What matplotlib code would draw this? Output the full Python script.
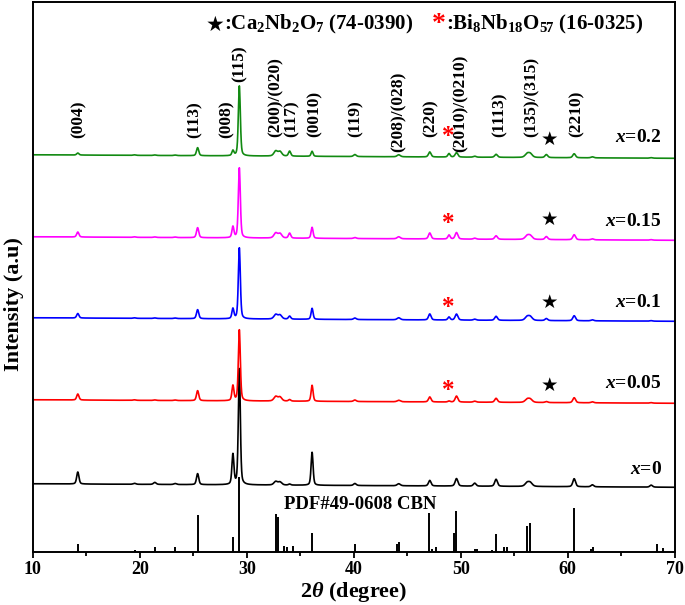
"""XRD patterns of CBN samples with the PDF#49-0608 reference bars."""
import matplotlib.pyplot as plt
import numpy as np
from matplotlib.ticker import MultipleLocator

plt.rcParams["font.family"] = ["Liberation Serif", "DejaVu Sans"]
plt.rcParams["font.weight"] = "bold"
plt.rcParams["axes.labelweight"] = "bold"
plt.rcParams["mathtext.fontset"] = "custom"
plt.rcParams["mathtext.rm"] = "Liberation Serif:bold"
plt.rcParams["mathtext.it"] = "Liberation Serif:italic:bold"
plt.rcParams["mathtext.bf"] = "Liberation Serif:bold"

# peak positions (2theta) and widths shared by all samples
peak_pos = [14.2, 19.5, 21.4, 23.3, 25.4, 28.7, 29.3, 32.7, 33.1, 34.0, 36.1,
            40.1, 44.2, 47.1, 48.9, 49.6, 51.3, 53.3, 56.2, 56.5, 58.0, 60.6,
            62.3, 67.8]
peak_fwhm = [0.25, 0.3, 0.3, 0.3, 0.25, 0.22, 0.22, 0.4, 0.4, 0.25, 0.22,
             0.3, 0.35, 0.28, 0.25, 0.3, 0.3, 0.3, 0.45, 0.45, 0.3, 0.3,
             0.3, 0.3]

# peak heights, one list per sample
h_x0 = [12, 1, 2, 1, 11, 30, 116, 3.5, 3, 1, 33, 2, 2, 5.5, 0, 7.5, 3, 7,
        3.5, 3.5, 0, 8, 2, 2]
h_x005 = [6, 0.5, 0.5, 0.5, 10, 15, 71, 4.5, 4, 1.5, 16, 1.5, 1.5, 5, 1, 6,
          1, 4, 3, 3, 1, 5, 1, 0.5]
h_x01 = [4.5, 0.5, 0.5, 0.5, 9, 10, 71, 4.5, 4, 3, 11, 1.5, 2, 6, 3, 6, 1,
         4, 3.5, 3.5, 2, 5, 1, 0.5]
h_x015 = [5, 0.5, 0.5, 0.5, 10, 11, 70, 5, 4.5, 5, 11, 1, 2, 6, 4, 6.5, 1,
          3.5, 3.5, 3.5, 3, 5, 1, 0.5]
h_x02 = [2, 0.5, 0.5, 0.5, 8, 5, 70, 5, 4.5, 5, 5, 2, 2, 5, 3.5, 4.5, 1, 3,
         3.5, 3.5, 3, 4, 1, 0.5]

sample_labels = ["0", "0.05", "0.1", "0.15", "0.2"]
sample_heights = [h_x0, h_x005, h_x01, h_x015, h_x02]
sample_colors = ["black", "#ff0000", "#0000ff", "#ff00ff", "#128a12"]
sample_offsets = [68, 152, 234, 315, 397]
label_y = [82, 168, 249, 330, 414]

# secondary phase markers (x=0.05 ... x=0.2)
star_x = 58.3
star_y = [166, 249, 332, 412]
ast_x = 48.8
ast_y = [161, 244, 328, 415]

# PDF#49-0608 reference lines
ref_pos = [14.2, 19.5, 21.4, 23.3, 25.4, 28.7, 29.3, 32.7, 32.9, 33.5, 33.8,
           34.3, 36.1, 40.1, 44.0, 44.2, 47.0, 47.3, 47.7, 49.4, 49.6, 51.3,
           51.5, 52.9, 53.3, 54.0, 54.3, 56.2, 56.5, 60.6, 62.2, 62.4, 68.3,
           68.9]
ref_int = [8, 2, 5, 5, 37, 15, 75, 38, 35, 6, 5, 6, 19, 8, 8, 10, 39, 3, 5,
           19, 41, 3, 3, 2, 18, 5, 5, 26, 29, 44, 3, 5, 8, 4]

# Miller index labels over the top pattern
hkl_text = ["(004)", "(113)", "(008)", "(115)", "(200)/(020)", "(117)",
            "(0010)", "(119)", "(208)/(028)", "(220)", "(2010)/(0210)",
            "(1113)", "(135)/(315)", "(2210)"]
hkl_x = [14.3, 25.1, 28.1, 29.3, 32.7, 34.2, 36.3, 40.2, 44.2, 47.2, 50.0,
         53.6, 56.6, 60.8]
hkl_y = [414, 414, 414, 470, 415, 415, 415, 415, 400, 415, 400, 415, 415, 415]


def profile(heights, tt):
    """Sum of pseudo-Voigt peaks."""
    y = np.zeros_like(tt)
    for p, w, h in zip(peak_pos, peak_fwhm, heights):
        d = (tt - p) / w
        y += h * (0.6 * np.exp(-4 * np.log(2) * d ** 2) + 0.4 / (1 + 4 * d ** 2))
    return y


tt = np.arange(10, 70.001, 0.02)

fig = plt.figure(figsize=(6.85, 6.05), dpi=100)
ax = fig.add_axes([0.048, 0.088, 0.937, 0.909])

for name, hs, col, off, ly in zip(sample_labels, sample_heights,
                                  sample_colors, sample_offsets, label_y):
    drift = 3.5 * (tt - 10) / 60
    ax.plot(tt, off - drift + profile(hs, tt), color=col, lw=1.2)
    ax.text(68.8, ly, r"$x$=" + name, ha="right", va="center", fontsize=14)

ax.vlines(ref_pos, 0, ref_int, color="black", lw=1.4)
ax.text(40.6, 47, "PDF#49-0608 CBN", ha="center", va="center", fontsize=13.5)

for s in star_y:
    ax.text(star_x, s, "\u2605", ha="center", va="center", fontsize=14,
            family="DejaVu Sans")
for a in ast_y:
    ax.text(ast_x, a, "*", ha="center", va="center", fontsize=18,
            color="#ff0000")

for t, x, y in zip(hkl_text, hkl_x, hkl_y):
    ax.text(x, y, t, rotation=90, ha="center", va="bottom", fontsize=12.5)

# phase legend at the top
ax.text(27.9, 527, "\u2605", ha="right", va="center", fontsize=15,
        family="DejaVu Sans")
ax.text(27.9, 527, ":Ca$_2$Nb$_2$O$_7$ (74-0390)", ha="left", va="center",
        fontsize=15)
ax.text(48.6, 527, "*", ha="right", va="center", fontsize=20, color="#ff0000")
ax.text(48.6, 527, ":Bi$_8$Nb$_{18}$O$_{57}$ (16-0325)", ha="left",
        va="center", fontsize=15)

ax.set_xlim(10, 70)
ax.set_ylim(0, 550)
ax.set_yticks([])
ax.xaxis.set_major_locator(MultipleLocator(10))
ax.xaxis.set_minor_locator(MultipleLocator(5))
ax.tick_params(axis="x", which="major", direction="out", length=4, width=1.3,
               labelsize=13, pad=3)
ax.tick_params(axis="x", which="minor", direction="out", length=3, width=1.3)
for lbl in ax.get_xticklabels():
    lbl.set_fontweight("bold")
for sp in ax.spines.values():
    sp.set_linewidth(1.4)

ax.set_xlabel(r"2$\theta$ (degree)", fontsize=16, labelpad=1)
ax.set_ylabel("Intensity (a.u)", fontsize=16)
ax.yaxis.set_label_coords(-0.014, 0.45)

fig.savefig("out.png", dpi=100)
